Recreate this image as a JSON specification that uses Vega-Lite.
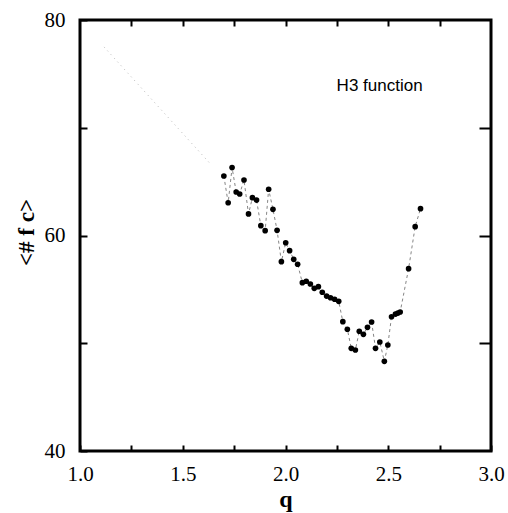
{
  "$schema": "https://vega.github.io/schema/vega-lite/v6.json",
  "width": 411,
  "height": 431,
  "autosize": {"type": "none"},
  "padding": {"left": 80, "top": 20, "right": 17, "bottom": 62},
  "background": "white",
  "config": {
    "view": {"stroke": "black", "strokeWidth": 3},
    "axis": {"domain": false, "grid": false, "tickColor": "black", "tickWidth": 2, "labelFont": "Liberation Serif", "labelFontSize": 21, "labelColor": "black", "titleFont": "Liberation Serif", "titleColor": "black", "titleFontWeight": "normal"}
  },
  "datasets": {
    "pts": [
      {"q": 1.700, "fc": 65.52}, {"q": 1.721, "fc": 63.04}, {"q": 1.740, "fc": 66.30}, {"q": 1.760, "fc": 64.04},
      {"q": 1.777, "fc": 63.85}, {"q": 1.798, "fc": 65.15}, {"q": 1.820, "fc": 62.00}, {"q": 1.839, "fc": 63.51},
      {"q": 1.859, "fc": 63.29}, {"q": 1.880, "fc": 60.91}, {"q": 1.901, "fc": 60.45}, {"q": 1.918, "fc": 64.29},
      {"q": 1.939, "fc": 62.43}, {"q": 1.959, "fc": 60.48}, {"q": 1.980, "fc": 57.57}, {"q": 2.001, "fc": 59.33},
      {"q": 2.020, "fc": 58.59}, {"q": 2.040, "fc": 57.79}, {"q": 2.059, "fc": 57.33}, {"q": 2.082, "fc": 55.62},
      {"q": 2.101, "fc": 55.75}, {"q": 2.121, "fc": 55.50}, {"q": 2.140, "fc": 55.10}, {"q": 2.160, "fc": 55.25},
      {"q": 2.179, "fc": 54.73}, {"q": 2.200, "fc": 54.38}, {"q": 2.219, "fc": 54.22}, {"q": 2.239, "fc": 54.08},
      {"q": 2.259, "fc": 53.89}, {"q": 2.279, "fc": 52.00}, {"q": 2.301, "fc": 51.30}, {"q": 2.320, "fc": 49.53},
      {"q": 2.340, "fc": 49.37}, {"q": 2.359, "fc": 51.11}, {"q": 2.379, "fc": 50.83}, {"q": 2.399, "fc": 51.48},
      {"q": 2.419, "fc": 51.97}, {"q": 2.438, "fc": 49.53}, {"q": 2.459, "fc": 50.12}, {"q": 2.481, "fc": 48.32},
      {"q": 2.498, "fc": 49.84}, {"q": 2.516, "fc": 52.46}, {"q": 2.535, "fc": 52.71}, {"q": 2.547, "fc": 52.80},
      {"q": 2.558, "fc": 52.90}, {"q": 2.599, "fc": 56.92}, {"q": 2.631, "fc": 60.82}, {"q": 2.657, "fc": 62.49}
    ],
    "trace": [{"q": 1.117, "fc": 77.5}, {"q": 1.632, "fc": 66.7}],
    "note": [{"q": 2.458, "fc": 73.9, "label": "H3 function"}]
  },
  "layer": [
    {
      "data": {"name": "trace"},
      "mark": {"type": "line", "color": "#999999", "strokeWidth": 0.7, "strokeDash": [1, 4]},
      "encoding": {
        "x": {"field": "q", "type": "quantitative", "scale": {"domain": [1, 3], "nice": false, "zero": false},
          "axis": {"orient": "bottom", "values": [1, 1.25, 1.5, 1.75, 2, 2.25, 2.5, 2.75, 3], "format": ".1f", "labelExpr": "(datum.value * 4) % 2 === 0 ? datum.label : ''", "tickSize": -6, "labelPadding": 18, "labelBaseline": "top", "title": "q", "titleFontSize": 24, "titleFontWeight": "bold", "titleX": 205.5, "titleY": 55, "titleBaseline": "alphabetic", "labelFlush": false}},
        "y": {"field": "fc", "type": "quantitative", "scale": {"domain": [40, 80], "nice": false, "zero": false},
          "axis": {"orient": "left", "values": [40, 50, 60, 70, 80], "labelExpr": "datum.value % 20 === 0 ? datum.label : ''", "tickSize": -7, "labelPadding": 22, "title": "<# f c>", "titleFontSize": 23, "titleFontWeight": "bold", "titleAngle": -90, "titleX": -47, "titleY": 212, "titleAlign": "center", "titleBaseline": "alphabetic", "labelFlush": false}}
      }
    },
    {
      "data": {"name": "pts"},
      "mark": {"type": "line", "color": "#666666", "strokeWidth": 0.8, "strokeDash": [3, 3]},
      "encoding": {
        "x": {"field": "q", "type": "quantitative", "axis": {"orient": "top", "values": [1.25, 1.5, 1.75, 2, 2.25, 2.5, 2.75], "labels": false, "tickSize": -6, "title": null}},
        "y": {"field": "fc", "type": "quantitative", "axis": {"orient": "right", "values": [50, 60, 70], "labels": false, "tickSize": -12, "title": null}}
      }
    },
    {
      "data": {"name": "pts"},
      "mark": {"type": "point", "filled": true, "color": "black", "opacity": 1, "size": 32},
      "encoding": {
        "x": {"field": "q", "type": "quantitative", "axis": null},
        "y": {"field": "fc", "type": "quantitative", "axis": null}
      }
    },
    {
      "data": {"name": "note"},
      "mark": {"type": "text", "font": "Liberation Sans", "fontSize": 17, "color": "black", "align": "center", "baseline": "middle"},
      "encoding": {
        "x": {"field": "q", "type": "quantitative", "axis": null},
        "y": {"field": "fc", "type": "quantitative", "axis": null},
        "text": {"field": "label"}
      }
    }
  ],
  "resolve": {"axis": {"x": "independent", "y": "independent"}}
}
